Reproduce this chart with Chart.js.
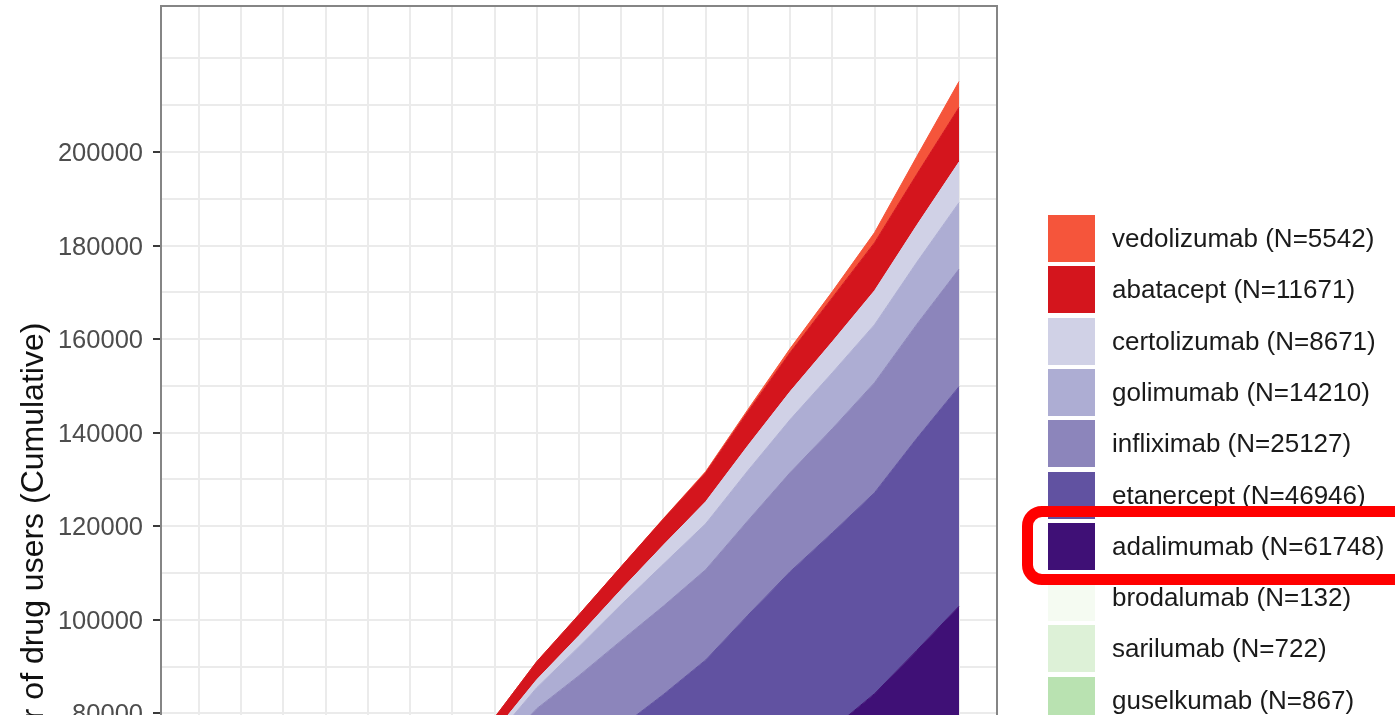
<!DOCTYPE html>
<html>
<head>
<meta charset="utf-8">
<title>Cumulative drug users</title>
<script src="https://cdn.jsdelivr.net/npm/chart.js@4.4.1/dist/chart.umd.min.js"></script>
<style>
    html, body {
        margin: 0;
        padding: 0;
        width: 1395px;
        height: 715px;
        overflow: hidden;
        background: #ffffff;
        font-family: "Liberation Sans", Arial, sans-serif;
    }
    #wrap {
        position: relative;
        width: 1395px;
        height: 1200px;
    }
    #chart {
        position: absolute;
        left: 0;
        top: 0;
    }
    .legend-key {
        position: absolute;
        width: 47px;
        height: 47px;
    }
    .legend-label {
        position: absolute;
        height: 47px;
        line-height: 47px;
        font-size: 26px;
        color: #1a1a1a;
        white-space: nowrap;
    }
    #highlight {
        position: absolute;
        left: 1022px;
        top: 506px;
        width: 420px;
        height: 79px;
        box-sizing: border-box;
        border: 11px solid #ff0000;
        border-radius: 20px;
    }
</style>
</head>
<body>
<div id="wrap">
    <canvas id="chart" width="1395" height="1200"></canvas>
    <div id="legend"></div>
    <div id="highlight"></div>
</div>
<script>
// x categories (years)
const years = [2000, 2001, 2002, 2003, 2004, 2005, 2006, 2007, 2008, 2009,
    2010, 2011, 2012, 2013, 2014, 2015, 2016, 2017, 2018];

// cumulative users per drug
const vedolizumab = [0, 0, 0, 0, 0, 0, 0, 0, 0, 0, 0, 100, 250, 450, 850, 1300, 2150, 3800, 5542];
const abatacept = [0, 0, 0, 0, 0, 300, 1500, 2990, 3850, 4490, 4920, 5560, 6200, 7270, 8340, 9410, 10260, 10900, 11671];
const certolizumab = [0, 0, 0, 0, 0, 0, 400, 1280, 1710, 2350, 3210, 4060, 4700, 5350, 5990, 6630, 7270, 7910, 8671];
const golimumab = [0, 0, 0, 0, 0, 0, 1500, 3420, 4490, 6200, 7700, 8980, 9830, 10690, 11330, 11970, 12400, 13260, 14210];
const infliximab = [3000, 5000, 7000, 9000, 10500, 12000, 13500, 14970, 15820, 17600, 18400, 18900, 19300, 20200, 21170, 22240, 23520, 24370, 25127];
const etanercept = [4000, 8000, 12000, 16000, 20000, 23500, 26500, 29500, 31000, 31360, 32910, 34120, 36510, 38810, 40620, 41900, 42970, 45330, 46946];
const adalimumab = [0, 0, 1500, 4000, 7000, 9500, 12000, 15000, 19000, 22000, 25000, 28000, 31000, 35500, 39500, 44000, 49500, 55500, 61748];
const brodalumab = [0, 0, 0, 0, 0, 0, 0, 0, 0, 0, 0, 0, 0, 0, 0, 0, 0, 40, 132];
const sarilumab = [0, 0, 0, 0, 0, 0, 0, 0, 0, 0, 0, 0, 0, 0, 0, 0, 0, 200, 722];
const guselkumab = [0, 0, 0, 0, 0, 0, 0, 0, 0, 0, 0, 0, 0, 0, 0, 0, 0, 250, 867];
// drugs further down the stack (off the picture)
const otherDrugs = [1000, 2000, 3000, 4500, 6000, 7500, 9500, 11920, 15180, 17100, 19230, 21910, 23890, 26670, 30170, 32710, 34700, 37460, 39424];

// y axis labels, and the lighter grid lines in between
const yTickLabels = [0, 20000, 40000, 60000, 80000, 100000, 120000, 140000, 160000, 180000, 200000];
const yGridLines = [-10000, 0, 10000, 20000, 30000, 40000, 50000, 60000, 70000, 80000, 90000, 100000, 110000,
    120000, 130000, 140000, 150000, 160000, 170000, 180000, 190000, 200000, 210000, 220000];

// series in legend order (top of the stack first)
const series = [
    { name: 'vedolizumab', values: vedolizumab, color: '#f5553b', legend: true },
    { name: 'abatacept', values: abatacept, color: '#d4151d', legend: true },
    { name: 'certolizumab', values: certolizumab, color: '#d0d1e6', legend: true },
    { name: 'golimumab', values: golimumab, color: '#adadd3', legend: true },
    { name: 'infliximab', values: infliximab, color: '#8c85bb', legend: true },
    { name: 'etanercept', values: etanercept, color: '#6152a1', legend: true },
    { name: 'adalimumab', values: adalimumab, color: '#3f1076', legend: true },
    { name: 'brodalumab', values: brodalumab, color: '#f5fbf2', legend: true },
    { name: 'sarilumab', values: sarilumab, color: '#ddf1d7', legend: true },
    { name: 'guselkumab', values: guselkumab, color: '#b9e2b1', legend: true },
    { name: 'other', values: otherDrugs, color: '#74c476', legend: false }
];

// Chart.js stacks the first dataset at the bottom, so reverse
const datasets = series.slice().reverse().map((s, i) => ({
    label: s.name,
    data: years.map((yr, j) => ({ x: yr, y: s.values[j] })),
    backgroundColor: s.color,
    borderColor: s.color,
    borderWidth: 1,
    pointRadius: 0,
    tension: 0,
    fill: i === 0 ? 'origin' : '-1'
}));

// Panel border like ggplot theme_bw
const panelBorder = {
    id: 'panelBorder',
    afterDraw(chart) {
        const { ctx, chartArea } = chart;
        ctx.save();
        ctx.strokeStyle = '#858585';
        ctx.lineWidth = 2;
        ctx.strokeRect(chartArea.left, chartArea.top, chartArea.right - chartArea.left, chartArea.bottom - chartArea.top);
        ctx.restore();
    }
};

const gridColor = '#ebebeb';

new Chart(document.getElementById('chart'), {
    type: 'line',
    data: { datasets: datasets },
    plugins: [panelBorder],
    options: {
        responsive: false,
        animation: false,
        layout: { padding: { left: 0, top: 6, right: 398, bottom: 21 } },
        plugins: {
            legend: { display: false },
            tooltip: { enabled: false }
        },
        scales: {
            x: {
                type: 'linear',
                min: years[0] - 0.9,
                max: years[years.length - 1] + 0.9,
                border: { display: false },
                grid: { color: gridColor, lineWidth: 2, tickLength: 8, tickColor: '#333333' },
                ticks: {
                    stepSize: 1,
                    includeBounds: false,
                    autoSkip: false,
                    maxRotation: 0,
                    color: '#4d4d4d',
                    font: { family: 'Liberation Sans', size: 12 },
                    callback: v => String(v)
                },
                afterFit: scale => {
                    scale.height = 40;
                    scale.paddingLeft = 0;
                    scale.paddingRight = 0;
                }
            },
            y: {
                stacked: true,
                min: -11000,
                max: 231213,
                border: { display: false },
                grid: {
                    lineWidth: 2,
                    tickLength: 8,
                    tickWidth: 2,
                    color: gridColor,
                    tickColor: ctx => (ctx.tick && yTickLabels.includes(ctx.tick.value)) ? '#3a3a3a' : 'rgba(0,0,0,0)'
                },
                ticks: {
                    autoSkip: false,
                    padding: 10,
                    labelOffset: 2,
                    color: '#4d4d4d',
                    font: { family: 'Liberation Sans', size: 25.5 },
                    callback: v => yTickLabels.includes(v) ? String(v) : ''
                },
                afterBuildTicks: scale => {
                    scale.ticks = yGridLines.map(v => ({ value: v }));
                },
                title: {
                    display: true,
                    text: 'Number of drug users (Cumulative)',
                    color: '#111111',
                    font: { family: 'Liberation Sans', size: 32 },
                    padding: { top: 15, bottom: 0 }
                },
                afterFit: scale => {
                    scale.width = 161;
                    scale.paddingTop = 0;
                    scale.paddingBottom = 0;
                }
            }
        }
    }
});

// Legend, same order as ggplot (top of stack first)
const legendEl = document.getElementById('legend');
series.filter(s => s.legend).forEach((s, i) => {
    const top = 215 + i * 51.3;
    const key = document.createElement('div');
    key.className = 'legend-key';
    key.style.left = '1048px';
    key.style.top = top + 'px';
    key.style.background = s.color;
    legendEl.appendChild(key);

    const label = document.createElement('div');
    label.className = 'legend-label';
    label.style.left = '1112px';
    label.style.top = top + 'px';
    label.textContent = `${s.name} (N=${s.values[s.values.length - 1]})`;
    legendEl.appendChild(label);
});
</script>
</body>
</html>
